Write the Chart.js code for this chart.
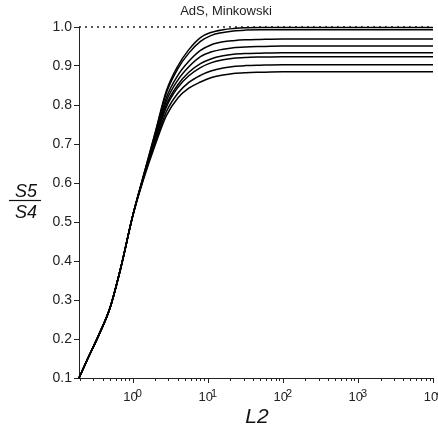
<!DOCTYPE html>
<html>
<head>
<meta charset="utf-8">
<script src="https://cdn.jsdelivr.net/npm/chart.js@4.4.1/dist/chart.umd.min.js"></script>
<style>
  html, body { margin: 0; padding: 0; background: #fff; }
  #wrap { width: 438px; height: 430px; }
</style>
</head>
<body>
<div id="wrap"><canvas id="myChart" width="438" height="430"></canvas></div>
<script>
// L2 sample points (log axis)
const L2 = [0.193, 0.25, 0.35, 0.5, 0.7, 1, 1.4, 2, 2.8, 4, 5.6, 8, 11, 16, 22, 32, 50, 100, 1000, 10000];

// S5/S4 for each curve (top plateau to bottom plateau)
const ratioA = [0.10, 0.148, 0.208, 0.28, 0.385, 0.515, 0.620, 0.730, 0.835, 0.900, 0.942, 0.973, 0.986, 0.993, 0.996, 0.998, 0.999, 0.999, 0.999, 0.999];
const ratioB = [0.10, 0.148, 0.208, 0.28, 0.385, 0.515, 0.620, 0.728, 0.830, 0.893, 0.933, 0.963, 0.978, 0.986, 0.990, 0.992, 0.993, 0.993, 0.993, 0.993];
const ratioC = [0.10, 0.148, 0.208, 0.28, 0.385, 0.515, 0.618, 0.722, 0.818, 0.876, 0.912, 0.940, 0.954, 0.962, 0.965, 0.967, 0.968, 0.969, 0.969, 0.969];
const ratioD = [0.10, 0.148, 0.208, 0.28, 0.385, 0.515, 0.617, 0.717, 0.809, 0.864, 0.898, 0.924, 0.936, 0.943, 0.947, 0.949, 0.950, 0.951, 0.951, 0.951];
const ratioE = [0.10, 0.148, 0.208, 0.28, 0.385, 0.515, 0.616, 0.712, 0.800, 0.852, 0.884, 0.906, 0.918, 0.926, 0.930, 0.932, 0.933, 0.934, 0.934, 0.934];
const ratioF = [0.10, 0.148, 0.208, 0.28, 0.385, 0.515, 0.615, 0.709, 0.794, 0.845, 0.875, 0.896, 0.908, 0.916, 0.920, 0.922, 0.923, 0.924, 0.924, 0.924];
const ratioG = [0.10, 0.148, 0.208, 0.28, 0.385, 0.515, 0.613, 0.703, 0.782, 0.830, 0.858, 0.876, 0.887, 0.895, 0.899, 0.901, 0.902, 0.903, 0.903, 0.903];
const ratioH = [0.10, 0.148, 0.208, 0.28, 0.385, 0.515, 0.610, 0.698, 0.772, 0.818, 0.843, 0.859, 0.870, 0.877, 0.881, 0.883, 0.884, 0.885, 0.885, 0.885];
const allCurves = [ratioA, ratioB, ratioC, ratioD, ratioE, ratioF, ratioG, ratioH];

// reference line at 1.0
const refX = [0.193, 10000];
const refY = [1.0, 1.0];

// tick labels
const xDecades = [1, 10, 100, 1000, 10000];
const xMinorMult = [2, 3, 4, 5, 6, 7, 8, 9];
const yMin = 0.1, yMax = 1.0, yStep = 0.05;

const FONT = '"Liberation Sans", Arial, sans-serif';

const datasets = allCurves.map(vals => ({
    data: L2.map((x, i) => ({ x: x, y: vals[i] })),
    borderColor: '#000',
    borderWidth: 1.5,
    pointRadius: 0,
    fill: false,
    cubicInterpolationMode: 'monotone',
    clip: false
}));
datasets.push({
    data: refX.map((x, i) => ({ x: x, y: refY[i] })),
    borderColor: '#222',
    borderWidth: 1.5,
    borderDash: [2, 4],
    pointRadius: 0,
    fill: false,
    clip: false
});

// draws the x ticks (major/minor), decade labels and the titles
const extras = {
    id: 'extras',
    afterDraw(chart) {
        const ctx = chart.ctx;
        const xs = chart.scales.x;
        const area = chart.chartArea;
        ctx.save();
        ctx.strokeStyle = '#222';
        ctx.lineWidth = 1;
        // x ticks
        const decs = [0.1].concat(xDecades);
        decs.forEach(d => {
            [1].concat(xMinorMult).forEach(m => {
                const v = d * m;
                if (v < xs.min || v > xs.max) return;
                const px = Math.round(xs.getPixelForValue(v)) + 0.5;
                const len = m === 1 ? 5 : 3;
                ctx.beginPath();
                ctx.moveTo(px, area.bottom);
                ctx.lineTo(px, area.bottom + len);
                ctx.stroke();
            });
        });
        // x labels 10^n
        ctx.fillStyle = '#222';
        ctx.textAlign = 'left';
        ctx.textBaseline = 'alphabetic';
        xDecades.forEach(d => {
            const exp = String(Math.round(Math.log10(d)));
            const px = xs.getPixelForValue(d);
            ctx.font = '13px ' + FONT;
            const baseW = ctx.measureText('10').width;
            ctx.font = '11px ' + FONT;
            const expW = ctx.measureText(exp).width;
            const start = px - (baseW + expW - 2) / 2;
            ctx.font = '13px ' + FONT;
            ctx.fillText('10', start, 401);
            ctx.font = '11px ' + FONT;
            ctx.fillText(exp, start + baseW - 2, 397);
        });
        // title
        ctx.textAlign = 'center';
        ctx.font = '13px ' + FONT;
        ctx.fillText('AdS, Minkowski', 226, 15);
        // y title as fraction
        ctx.fillStyle = '#111';
        ctx.font = 'italic 18px ' + FONT;
        ctx.fillText('S5', 26, 197);
        ctx.fillText('S4', 26, 218);
        ctx.beginPath();
        ctx.lineWidth = 1.2;
        ctx.strokeStyle = '#111';
        ctx.moveTo(9, 200.5);
        ctx.lineTo(41, 200.5);
        ctx.stroke();
        // x title
        ctx.font = 'italic 21px ' + FONT;
        ctx.fillText('L2', 257, 423);
        ctx.restore();
    }
};

const ctx = document.getElementById('myChart').getContext('2d');
const myChart = new Chart(ctx, {
    type: 'line',
    data: { datasets: datasets },
    plugins: [extras],
    options: {
        responsive: false,
        devicePixelRatio: 1,
        animation: false,
        layout: { padding: { left: 0, right: 5, top: 27, bottom: 0 } },
        plugins: { legend: { display: false }, tooltip: { enabled: false } },
        scales: {
            x: {
                type: 'logarithmic',
                min: 0.193,
                max: 10000,
                grid: { display: false },
                border: { display: true, color: '#222', width: 1 },
                ticks: { display: false },
                afterFit(scale) { scale.height = 52; }
            },
            y: {
                min: yMin,
                max: yMax,
                grid: { drawOnChartArea: false, drawTicks: true, tickLength: 5, color: '#222' },
                border: { display: true, color: '#222', width: 1 },
                ticks: {
                    stepSize: yStep,
                    padding: 2,
                    color: '#222',
                    font: { family: FONT, size: 14 },
                    callback: function(value) {
                        const r = Math.round(value * 100);
                        return r % 10 === 0 ? (r / 100).toFixed(1) : '';
                    }
                },
                afterFit(scale) { scale.width = 79; }
            }
        }
    }
});
</script>
</body>
</html>
